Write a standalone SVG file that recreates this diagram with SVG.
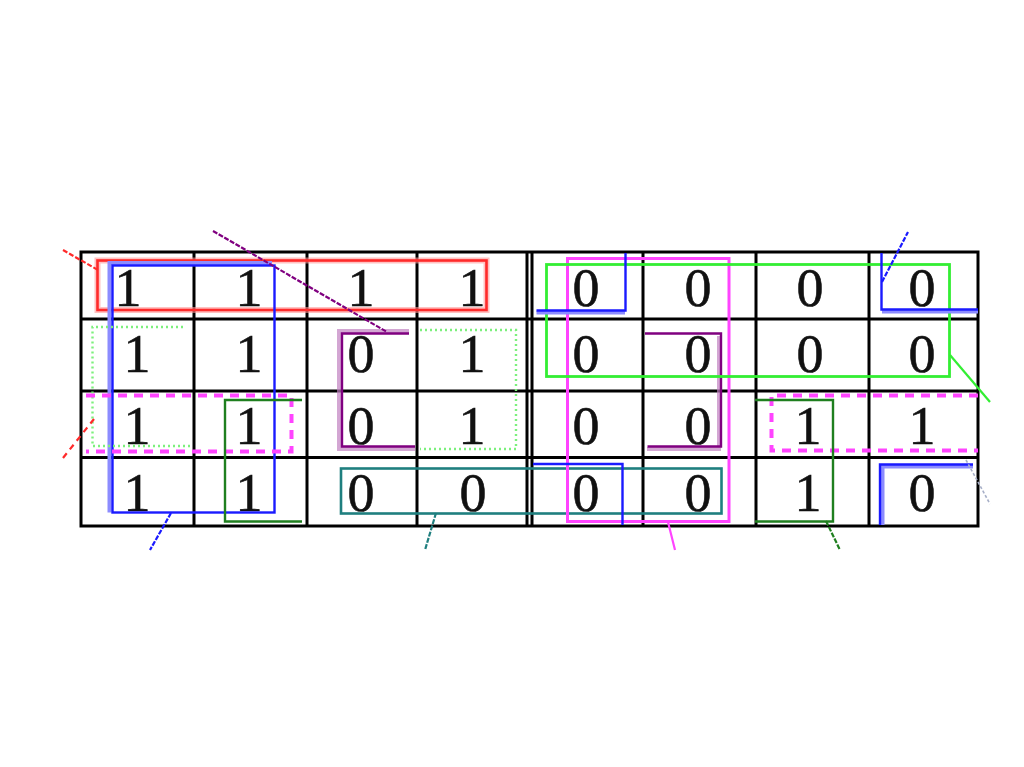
<svg xmlns="http://www.w3.org/2000/svg" width="1024" height="767" viewBox="0 0 1024 767">
<style>
.grid{stroke:#000;stroke-width:3;fill:none}
.d{font-family:"Liberation Serif","Times New Roman",serif;font-size:54px;fill:#111;stroke:#111;stroke-width:0.6;text-anchor:middle}
.g{fill:none;stroke-linejoin:miter}
.red{stroke:#ff2a2a;stroke-width:2.6}
.redh{stroke:#ff9a9a;stroke-width:6}
.blue{stroke:#1a1aff;stroke-width:2.4}
.blueh{stroke:#8c8cff;stroke-width:4}
.lg{stroke:#7cf07c;stroke-width:2.4;stroke-dasharray:2 3}
.mgd{stroke:#ff44ff;stroke-width:4;stroke-dasharray:9 7}
.dg{stroke:#1f7f1f;stroke-width:2.4}
.pu{stroke:#800080;stroke-width:2.4}
.puh{stroke:#c080c0;stroke-width:4}
.te{stroke:#1f7f7f;stroke-width:2.6}
.mg{stroke:#ff44ff;stroke-width:3}
.gr{stroke:#33ee33;stroke-width:2.8}
</style>
<rect width="1024" height="767" fill="#fff"/>
<g id="grid" class="grid">
<rect x="81" y="252" width="897" height="274"/>
<line x1="81" y1="319" x2="978" y2="319"/>
<line x1="81" y1="391" x2="978" y2="391"/>
<line x1="81" y1="457.5" x2="978" y2="457.5"/>
<line x1="194" y1="252" x2="194" y2="526"/>
<line x1="307" y1="252" x2="307" y2="526"/>
<line x1="417" y1="252" x2="417" y2="526"/>
<line x1="527" y1="252" x2="527" y2="526"/>
<line x1="532" y1="252" x2="532" y2="526"/>
<line x1="643" y1="252" x2="643" y2="526"/>
<line x1="756" y1="252" x2="756" y2="526"/>
<line x1="869" y1="252" x2="869" y2="526"/>
</g>
<g id="cells">
<g id="row1">
<text class="d" x="128" y="306">1</text><text class="d" x="249" y="306">1</text><text class="d" x="361" y="306">1</text><text class="d" x="472" y="306">1</text>
<text class="d" x="586" y="306">0</text><text class="d" x="698" y="306">0</text><text class="d" x="810" y="306">0</text><text class="d" x="922" y="306">0</text>
</g>
<g id="row2">
<text class="d" x="137" y="372">1</text><text class="d" x="249" y="372">1</text><text class="d" x="361" y="372">0</text><text class="d" x="472" y="372">1</text>
<text class="d" x="586" y="372">0</text><text class="d" x="698" y="372">0</text><text class="d" x="810" y="372">0</text><text class="d" x="922" y="372">0</text>
</g>
<g id="row3">
<text class="d" x="137" y="444">1</text><text class="d" x="249" y="444">1</text><text class="d" x="361" y="444">0</text><text class="d" x="472" y="444">1</text>
<text class="d" x="586" y="444">0</text><text class="d" x="698" y="444">0</text><text class="d" x="808" y="444">1</text><text class="d" x="922" y="444">1</text>
</g>
<g id="row4">
<text class="d" x="137" y="511">1</text><text class="d" x="249" y="511">1</text><text class="d" x="361" y="511">0</text><text class="d" x="473" y="511">0</text>
<text class="d" x="586" y="511">0</text><text class="d" x="698" y="511">0</text><text class="d" x="808" y="511">1</text><text class="d" x="922" y="511">0</text>
</g>
</g>
<g id="groups">
<g id="red-group">
<rect class="g redh" x="97.5" y="260.5" width="389" height="49.5" opacity="0.6"/>
<rect class="g red" x="97.5" y="260.5" width="389" height="49.5"/>
</g>
<g id="blue-group">
<path class="g blueh" d="M109.5 512.5 V263 H272"/>
<rect class="g blue" x="112.5" y="265.5" width="162" height="247"/>
</g>
<g id="lightgreen-left"><path class="g lg" d="M183 327 H92.5 V446 H192"/></g>
<g id="lightgreen-right"><path class="g lg" d="M420 330 H516 V449 H420"/></g>
<g id="magenta-dashed-left"><path class="g mgd" d="M86 395.5 H291.5 V451.5 H86"/></g>
<g id="magenta-dashed-right"><path class="g mgd" d="M978 395.5 H771.5 V450.5 H978"/></g>
<g id="darkgreen-left"><path class="g dg" d="M302 400 H225 V521.5 H302"/></g>
<g id="darkgreen-right"><path class="g dg" d="M755 400 H833 V521.5 H755"/></g>
<g id="purple-left">
<path class="g puh" d="M409 331 H339 V449 H415" opacity="0.7"/>
<path class="g pu" d="M409 333.5 H342 V446.5 H415"/>
</g>
<g id="purple-right">
<path class="g puh" d="M719 336 V449 H647" opacity="0.7"/>
<path class="g pu" d="M645 333.5 H721 V446.5 H647.5"/>
</g>
<g id="teal-group"><rect class="g te" x="341" y="468.5" width="380.5" height="45"/></g>
<g id="magenta-group"><rect class="g mg" x="567.5" y="258.5" width="161.5" height="263"/></g>
<g id="green-group"><rect class="g gr" x="546.5" y="264.5" width="403" height="112"/></g>
<g id="blue-corner-tl">
<path class="g blueh" d="M536.5 312.5 H625"/>
<path class="g blue" d="M536.5 310.5 H625.5 V253"/>
</g>
<g id="blue-corner-tr">
<path class="g blueh" d="M882 311.5 H978"/>
<path class="g blue" d="M881.5 253 V309.5 H978"/>
</g>
<g id="blue-corner-bl"><path class="g blue" d="M533 464 H622.5 V525"/></g>
<g id="blue-corner-br">
<path class="g blueh" d="M882.5 525 V466.5 H973"/>
<path class="g blue" d="M880 525 V464.5 H973"/>
</g>
</g>
<g id="connectors" fill="none">
<line x1="63" y1="250" x2="98" y2="270" stroke="#ff2a2a" stroke-width="2.2" stroke-dasharray="5 2"/>
<line x1="63" y1="458" x2="94" y2="419" stroke="#ff2a2a" stroke-width="2.2" stroke-dasharray="6 5"/>
<line x1="171" y1="513" x2="150" y2="550" stroke="#1a1aff" stroke-width="2.2" stroke-dasharray="5 1.5"/>
<line x1="213" y1="231" x2="387" y2="332" stroke="#800080" stroke-width="2.2" stroke-dasharray="5 1.5"/>
<line x1="436" y1="513" x2="425" y2="550" stroke="#1f7f7f" stroke-width="2.2" stroke-dasharray="5 1.5"/>
<line x1="668" y1="522" x2="675" y2="550" stroke="#ff44ff" stroke-width="2.2"/>
<line x1="826" y1="521" x2="840" y2="550" stroke="#1f7f1f" stroke-width="2.2" stroke-dasharray="5 1.5"/>
<line x1="950" y1="355" x2="990" y2="402" stroke="#33ee33" stroke-width="2.2"/>
<line x1="882" y1="282" x2="908" y2="232" stroke="#1a1aff" stroke-width="2.2" stroke-dasharray="5 1.5"/>
<line x1="966" y1="460" x2="990" y2="504" stroke="#a8b0c8" stroke-width="1.6" stroke-dasharray="3 2"/>
</g>
</svg>
